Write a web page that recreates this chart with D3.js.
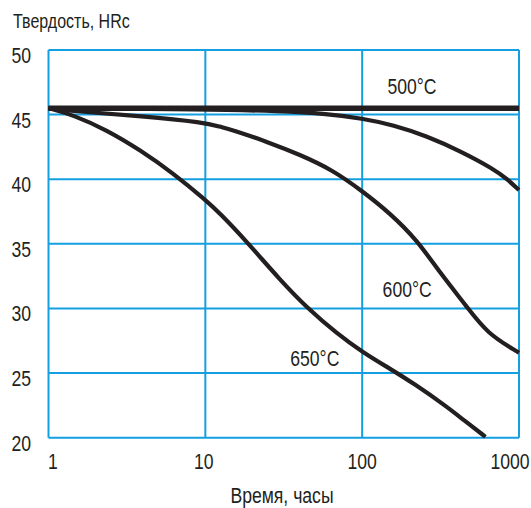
<!DOCTYPE html>
<html><head><meta charset="utf-8">
<script src="https://cdn.jsdelivr.net/npm/d3@7"></script>
<style>
body{margin:0;background:#fff}
text{font-family:"Liberation Sans","Arial",sans-serif;fill:#231f20}
</style></head>
<body><svg id="c" width="531" height="508"></svg>
<script>
// ---- data ----
const xTicks = [1, 10, 100, 1000];
const yTicks = [20, 25, 30, 35, 40, 45, 50];
const yTitle = "Твердость, HRc";
const xTitle = "Время, часы";
// [hours, HRc]
const flatLine = [[1, 45.5], [1000, 45.5]];
const curve500 = [[1,45.5],[10,45.42],[30,45.28],[60,45.05],[100,44.71],[158,44.2],[259,43.34],[423,42.18],[690,40.79],[840,40.02],[1000,39.16]];
const curve600 = [[1,45.5],[1.66,45.2],[3.84,44.9],[10,44.39],[12.4,44.06],[15,43.81],[24.7,42.9],[40,41.91],[65,40.71],[100,39.09],[151,37.36],[224,35.29],[315,32.72],[466,30.13],[625,28.07],[1000,26.57]];
const curve650 = [[1,45.5],[1.44,44.97],[2.35,43.81],[3.84,42.26],[6.25,40.46],[10,38.4],[12.4,37.36],[18.4,35.16],[30,32.2],[44.5,30.05],[69,28.07],[101,26.6],[150,25.35],[213,24.2],[348,22.39],[444,21.36],[611,20.07]];
const labelNames = ["500°C", "600°C", "650°C"];
const labelHours = [145, 135, 34.8];
const labelHRc = [46.57, 30.88, 25.54];

// ---- chart ----
const svg = d3.select("#c");
const x = d3.scaleLog().domain([1, 1000]).range([48.5, 519]);
const y = d3.scaleLinear().domain([20, 50]).range([437.7, 50]);
const grid = "#14a0e0";
const ink = "#231f20";
const squeeze = 0.8;

function ntext(px, py, str, size, anchor) {
  svg.append("g").attr("transform", `translate(${px},${py}) scale(${squeeze},1)`)
    .append("text").attr("text-anchor", anchor || "start")
    .attr("font-size", size).text(str);
}

const g = svg.append("g");
g.selectAll(".vg").data(xTicks).join("line")
  .attr("x1", d => x(d)).attr("x2", d => x(d))
  .attr("y1", y(50)).attr("y2", y(20))
  .attr("stroke", grid).attr("stroke-width", 2);
g.selectAll(".hg").data(yTicks).join("line")
  .attr("y1", d => y(d)).attr("y2", d => y(d))
  .attr("x1", x(1)).attr("x2", x(1000))
  .attr("stroke", grid).attr("stroke-width", 2);

const line = d3.line().x(d => x(d[0])).y(d => y(d[1])).curve(d3.curveBasis);
[[curve650, 4.2], [curve600, 4.2], [curve500, 4.2], [flatLine, 5.5]].forEach(([data, w]) => {
  svg.append("path").datum(data).attr("d", line)
    .attr("fill", "none").attr("stroke", ink).attr("stroke-width", w)
    .attr("stroke-linecap", "butt").attr("stroke-linejoin", "round");
});

// y tick labels
yTicks.forEach(d => ntext(31, y(d) + 13, d, 22, "end"));
// x tick labels
const xdx = [4.5, -1.5, 0, -9];
xTicks.forEach((d, i) => ntext(x(d) + xdx[i], 469, d, 22, "middle"));

ntext(13, 28, yTitle, 20, "start");
ntext(282, 503, xTitle, 22, "middle");

labelNames.forEach((s, i) => ntext(x(labelHours[i]), y(labelHRc[i]), s, 22, "start"));
</script>
</body></html>
